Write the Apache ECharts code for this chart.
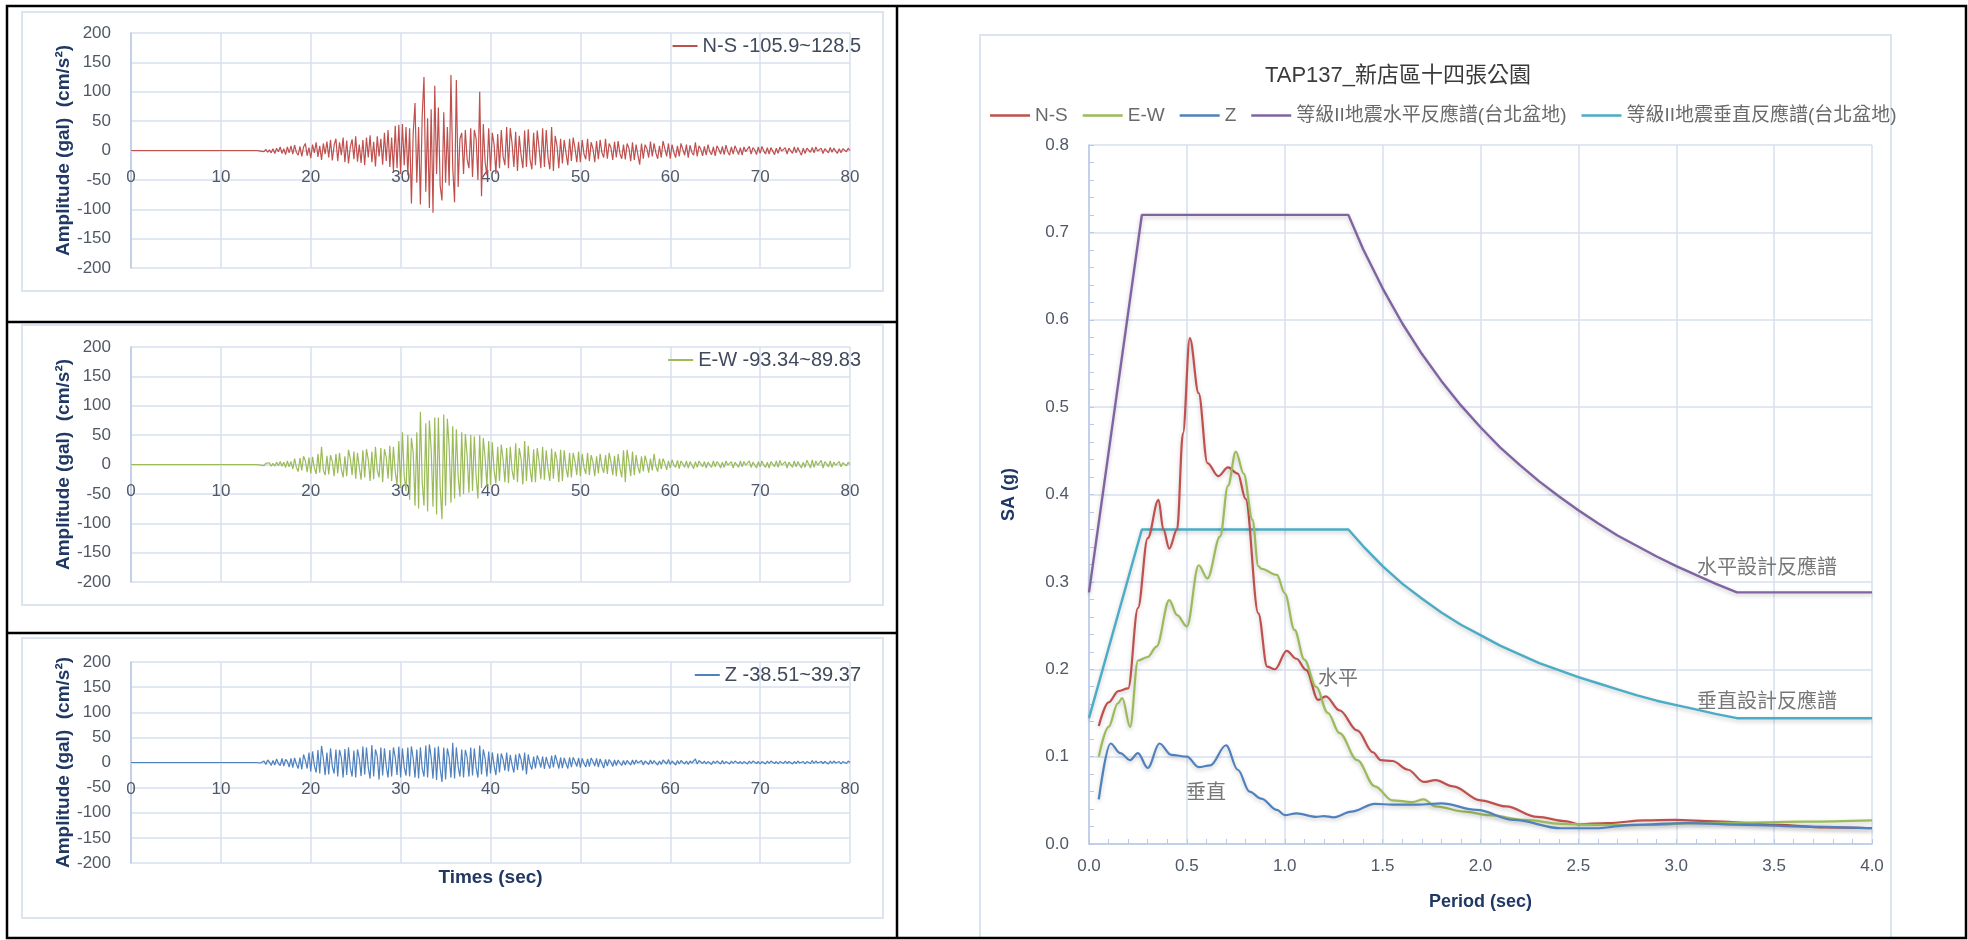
<!DOCTYPE html>
<html>
<head>
<meta charset="utf-8">
<script src="https://cdn.jsdelivr.net/npm/echarts@6/dist/echarts.min.js"></script>
<style>
  html, body { margin: 0; padding: 0; background: #ffffff; }
  #main { width: 1968px; height: 940px; }
</style>
</head>
<body>
<div id="main"></div>
<script>
// ---------- Acceleration records (gal), sampled every 0.2 s from 14 s; quiet before ----------
const accStart = 14;
const accStep = 0.2;

const nsAcc = [
  0, 1, -1, 1, -2,   2, -3, 1, -4, 3,   -5, 4, -2, 6, -5,   3, -7, 6, -4, 8,   -6, 9, -3, -8, 7,
  -10, 6, 12, -9, 5,   -13, 10, -4, 14, -11,   8, -16, 12, -6, 15,   -12, 18, -17, 9, 20,   -18, 14, -8, 22, -20,
  17, -22, 6, 19, -15,   24, -19, 10, -21, 18,   -25, 22, -12, 26, -20,   15, -27, 24, -10, 20,   -24, 30, -18, 35, -28,
  22, -35, 42, -30, 44,   -40, 45, -25, 40, -42,   38, -90, 30, 81, -55,   40, -92, 60, 125, -70,   55, -98, 70, -105.9, 110,
  -40, 73, -60, -85, 65,   -55, 40, -60, 128.5, -30,   -88, 120, -62, 20, 30,   -40, 35, -15, -30, 38,   -45, 35, 20, -50, 100,
  -78, 45, -20, -42, 38,   -35, 30, 10, -40, 28,   -30, 35, -10, -25, 40,   -30, 38, 12, -28, 32,   -35, 25, -8, -30, 34,
  -28, 36, -15, -32, 30,   -25, 34, 5, -30, 38,   -28, 35, -12, -32, 40,   -35, 25, 8, -30, 20,   -22, 18, -5, -25, 20,
  -18, 22, 4, -20, 15,   -20, 18, -6, -15, 20,   -18, 14, 3, -20, 16,   -15, 18, -4, -12, 20,   -14, 12, 5, -16, 15,
  -12, 16, -5, -14, 10,   -15, 12, 4, -18, 14,   -16, 10, -8, -24, 12,   -14, 10, 3, -12, 15,   -10, 12, -4, -14, 8,
  -12, 16, 3, -10, 12,   -14, 10, -3, -12, 8,   -10, 12, 2, -8, 10,   -12, 9, -3, -8, 14,   -10, 8, 2, -9, 7,
  -8, 10, -2, -7, 6,   -9, 8, 2, -6, 7,   -7, 9, -2, -8, 6,   -6, 8, 1, -7, 5,   -8, 6, -2, -5, 7,
  -6, 5, 1, -7, 6,   -5, 7, -1, -6, 5,   -6, 5, 2, -7, 4,   -5, 6, -1, -4, 5,   -6, 4, 1, -5, 6,
  -4, 5, -2, -8, 4,   -5, 4, 1, -3, 5,   -4, 6, -1, -3, 4,   -5, 3, 1, -4, 5,   -3, 4, -1, -5, 3,
  -4, 3, 1, -2, 4,   0
];

const ewAcc = [
  0, 1, -1, 1, -2,   2, -1, 3, -3, 2,   -3, 4, -2, 5, -3,   4, -5, 6, -4, 5,   -8, 10, -5, -12, 11,
  -10, 14, 6, -13, 12,   -15, 13, -6, -16, 18,   -14, 30, -10, -18, 15,   -17, 16, 5, -20, 18,   -15, 20, -8, -22, 14,
  -20, 25, 10, -18, 22,   -24, 20, -5, -26, 24,   -22, 26, 8, -28, 22,   -25, 30, -10, -22, 28,   -30, 26, 12, -24, 32,
  -28, 30, -12, -35, 40,   -40, 55, -20, -45, 50,   -60, 45, 20, -70, 55,   -75, 89.83, -30, -70, 70,   -80, 75, 25, -72, 80,
  -85, 80, -40, -93.34, 85,   -70, 78, 30, -65, 65,   -58, 60, -20, -55, 55,   -50, 52, 15, -48, 50,   -45, 48, -20, -58, 50,
  -40, 45, 12, -38, 40,   -35, 38, -10, -32, 30,   -28, 34, 8, -30, 28,   -32, 30, -10, -26, 36,   -30, 28, 10, -34, 40,
  -28, 32, -8, -30, 26,   -30, 28, 6, -25, 30,   -26, 24, -8, -28, 27,   -24, 22, 7, -30, 25,   -28, 24, -6, -22, 20,
  -22, 20, 5, -18, 22,   -20, 18, -5, -16, 20,   -18, 16, 4, -20, 14,   -15, 18, -4, -14, 16,   -16, 20, 5, -18, 15,
  -20, 18, -6, -22, 24,   -30, 25, 5, -20, 22,   -18, 16, -4, -15, 14,   -12, 15, 3, -14, 10,   -10, 18, -3, -12, 10,
  -8, 10, 2, -9, 6,   -6, 8, -1, -5, 7,   -7, 6, 1, -5, 6,   -6, 5, -1, -7, 5,   -5, 6, 1, -4, 5,
  -6, 4, -1, -5, 6,   -4, 5, 1, -6, 4,   -5, 6, -1, -4, 5,   -6, 4, 1, -5, 6,   -4, 5, -1, -3, 6,
  -5, 4, 1, -6, 5,   -4, 6, -1, -5, 4,   -6, 5, 1, -4, 6,   -5, 7, -1, -4, 5,   -6, 4, 1, -5, 6,
  -4, 5, -1, -6, 4,   -5, 7, 1, -6, 8,   -5, 6, -1, -4, 7,   -6, 5, 1, -4, 6,   -5, 4, -1, -3, 5,
  -4, 3, 1, -2, 4,   0
];

const zAcc = [
  0, 2, -1, -2, 3,   -4, 5, 1, -6, 4,   -5, 7, -2, -6, 8,   -7, 6, 2, -9, 8,   -10, 9, -3, -12, 10,
  -14, 16, 4, -12, 20,   -18, 22, -6, -20, 25,   -22, 33, 8, -25, 20,   -24, 28, -8, -22, 26,   -28, 25, 10, -30, 27,
  -25, 30, -10, -28, 24,   -30, 26, 8, -27, 32,   -24, 30, -10, -32, 35,   -28, 26, 12, -34, 30,   -26, 28, -8, -30, 25,
  -28, 30, 10, -25, 32,   -30, 28, -10, -26, 30,   -28, 32, 8, -30, 26,   -32, 30, -12, -28, 34,   -30, 36, 10, -32, 30,
  -35, 32, -12, -38.51, 30,   -34, 28, 10, -30, 39.37,   -32, 30, -8, -28, 26,   -30, 25, 10, -28, 30,   -26, 28, -10, -30, 34,
  -24, 26, 8, -28, 22,   -22, 20, -6, -25, 18,   -20, 18, 6, -16, 20,   -18, 15, -5, -20, 16,   -15, 18, 6, -16, 20,
  -24, 16, -4, -14, 12,   -12, 14, 4, -10, 12,   -13, 11, -3, -12, 14,   -10, 15, 3, -12, 10,   -11, 9, -2, -12, 10,
  -9, 10, 2, -8, 9,   -10, 8, -2, -9, 7,   -8, 9, 2, -7, 8,   -9, 7, -2, -11, 6,   -7, 6, 1, -8, 5,
  -6, 5, -1, -6, 4,   -5, 4, 1, -5, 5,   -4, 5, -1, -3, 4,   -5, 3, 1, -4, 5,   -3, 4, -1, -5, 3,
  -4, 5, 1, -3, 6,   -4, 3, -1, -5, 4,   -3, 4, 1, -3, 3,   -4, 3, -1, -2, 7,   -3, 4, 1, -2, 3,
  -3, 2, -1, -4, 3,   -2, 3, 1, -3, 4,   -3, 2, -1, -3, 3,   -2, 3, 1, -2, 2,   -3, 2, -1, -3, 3,
  -2, 3, 1, -2, 2,   -3, 2, -1, -3, 3,   -2, 3, 1, -2, 2,   -3, 2, -1, -2, 3,   -2, 2, 1, -3, 2,
  -2, 3, -1, -2, 2,   -3, 2, 1, -2, 4,   -2, 3, -1, -3, 2,   -2, 2, 1, -3, 3,   -2, 3, -1, -2, 2,
  -3, 2, 1, -2, 3,   0
];

// ---------- Response spectra (period in s, SA in g) ----------
const nsPeriod = [0.05, 0.10, 0.15, 0.20, 0.25, 0.30, 0.355, 0.38, 0.41, 0.45, 0.48, 0.515, 0.56, 0.605, 0.66, 0.71, 0.76, 0.80, 0.865, 0.91, 0.95, 1.01, 1.06, 1.11, 1.17, 1.21, 1.28, 1.37, 1.45, 1.49, 1.55, 1.63, 1.71, 1.77, 1.86, 2.0, 2.13, 2.29, 2.44, 2.5, 2.65, 2.84, 2.99, 3.2, 3.51, 3.76, 4.0];
const nsSA     = [0.135, 0.162, 0.175, 0.178, 0.27, 0.35, 0.394, 0.36, 0.338, 0.36, 0.47, 0.579, 0.516, 0.436, 0.421, 0.431, 0.424, 0.395, 0.264, 0.203, 0.200, 0.221, 0.212, 0.199, 0.165, 0.169, 0.153, 0.130, 0.105, 0.096, 0.095, 0.085, 0.071, 0.073, 0.066, 0.050, 0.043, 0.031, 0.026, 0.0225, 0.024, 0.027, 0.0275, 0.026, 0.022, 0.019, 0.018];

const ewPeriod = [0.05, 0.10, 0.147, 0.17, 0.21, 0.25, 0.30, 0.345, 0.41, 0.45, 0.50, 0.56, 0.605, 0.67, 0.71, 0.75, 0.79, 0.835, 0.865, 0.88, 0.96, 1.00, 1.05, 1.10, 1.16, 1.22, 1.28, 1.37, 1.46, 1.55, 1.65, 1.71, 1.77, 1.92, 2.04, 2.23, 2.41, 2.59, 2.75, 2.9, 3.08, 3.36, 3.66, 4.0];
const ewSA     = [0.100, 0.134, 0.161, 0.167, 0.134, 0.21, 0.214, 0.226, 0.279, 0.262, 0.249, 0.319, 0.304, 0.352, 0.41, 0.449, 0.424, 0.371, 0.318, 0.315, 0.308, 0.287, 0.245, 0.211, 0.18, 0.15, 0.127, 0.096, 0.066, 0.050, 0.048, 0.051, 0.043, 0.037, 0.033, 0.0275, 0.023, 0.022, 0.0215, 0.022, 0.024, 0.0245, 0.0255, 0.027];

const zPeriod = [0.05, 0.11, 0.16, 0.21, 0.25, 0.30, 0.36, 0.42, 0.50, 0.56, 0.62, 0.70, 0.76, 0.82, 0.88, 0.96, 1.00, 1.06, 1.16, 1.20, 1.25, 1.34, 1.46, 1.55, 1.68, 1.80, 1.98, 2.17, 2.41, 2.59, 2.78, 3.05, 3.36, 3.66, 4.0];
const zSA     = [0.051, 0.115, 0.104, 0.096, 0.104, 0.087, 0.115, 0.102, 0.100, 0.088, 0.090, 0.113, 0.085, 0.060, 0.052, 0.039, 0.033, 0.035, 0.031, 0.032, 0.0305, 0.037, 0.046, 0.045, 0.045, 0.0465, 0.039, 0.0275, 0.018, 0.018, 0.022, 0.024, 0.022, 0.020, 0.018];

// Design spectra, Taipei basin
const designHPeriod = [0, 0.27, 1.325, 1.4, 1.5, 1.6, 1.7, 1.8, 1.9, 2.0, 2.1, 2.2, 2.3, 2.4, 2.5, 2.6, 2.7, 2.8, 2.9, 3.0, 3.1, 3.2, 3.31, 4.0];
const designHSA     = [0.288, 0.72, 0.72, 0.681, 0.636, 0.596, 0.561, 0.530, 0.502, 0.477, 0.454, 0.434, 0.415, 0.398, 0.382, 0.367, 0.353, 0.341, 0.329, 0.318, 0.308, 0.298, 0.288, 0.288];
const designVPeriod = [0, 0.27, 1.325, 1.4, 1.5, 1.6, 1.7, 1.8, 1.9, 2.0, 2.1, 2.2, 2.3, 2.4, 2.5, 2.6, 2.7, 2.8, 2.9, 3.0, 3.1, 3.2, 3.31, 4.0];
const designVSA     = [0.144, 0.36, 0.36, 0.341, 0.318, 0.298, 0.281, 0.265, 0.251, 0.239, 0.227, 0.217, 0.207, 0.199, 0.191, 0.184, 0.177, 0.170, 0.164, 0.159, 0.154, 0.149, 0.144, 0.144];

const spectrumNames = ['N-S', 'E-W', 'Z', '等級II地震水平反應譜(台北盆地)', '等級II地震垂直反應譜(台北盆地)'];
const annotationTexts = ['水平設計反應譜', '垂直設計反應譜', '水平', '垂直'];

// ---------- helpers ----------
const FONT = "'Liberation Sans', 'Noto Sans CJK TC', sans-serif";
const COLORS = ['#C0504D', '#9BBB59', '#4F81BD', '#8064A2', '#4BACC6'];
const GRID_LINE = '#D7E0F0';
const AXIS_LINE = '#B7C9E6';
const NAVY = '#203864';

function accSeriesData(arr) {
  return [[0, 0]].concat(arr.map((v, i) => [accStart + i * accStep, v]));
}
function zip(xs, ys) { return xs.map((x, i) => [x, ys[i]]); }
function rangeName(prefix, arr) {
  return prefix + ' ' + Math.min(...arr) + '~' + Math.max(...arr);
}

const accNames = [rangeName('N-S', nsAcc), rangeName('E-W', ewAcc), rangeName('Z', zAcc)];
const accData = [nsAcc, ewAcc, zAcc];

// left column panel layout
const panels = [
  { top: 33, height: 235 },
  { top: 347, height: 235 },
  { top: 662, height: 201 }
];

const grids = panels.map(p => ({ left: 131, top: p.top, width: 719, height: p.height }));
grids.push({ left: 1089, top: 145, width: 783, height: 699 });

// the time axis sits on the zero line, half way up each symmetric plot
const xAxes = panels.map((p, i) => ({
  type: 'value', gridIndex: i, min: 0, max: 80, interval: 10,
  position: 'bottom', offset: -p.height / 2,
  axisLine: { onZero: false, lineStyle: { color: GRID_LINE, width: 1.5 } },
  axisTick: { show: false },
  axisLabel: { margin: 18, fontSize: 17, color: '#505866', fontFamily: FONT },
  splitLine: { show: true, lineStyle: { color: GRID_LINE, width: 1.5 } },
  name: i === 2 ? 'Times (sec)' : '',
  nameLocation: 'middle', nameGap: 106,
  nameTextStyle: { fontSize: 19, fontWeight: 'bold', color: NAVY, fontFamily: FONT }
}));
xAxes.push({
  type: 'value', gridIndex: 3, min: 0, max: 4, interval: 0.5,
  axisLine: { show: true, lineStyle: { color: AXIS_LINE, width: 1.5 } },
  axisTick: { show: true, inside: true, length: 5, lineStyle: { color: AXIS_LINE } },
  minorTick: { show: true, splitNumber: 5, length: 5, lineStyle: { color: AXIS_LINE } },
  axisLabel: { margin: 14, fontSize: 17, color: '#505866', fontFamily: FONT, formatter: v => v.toFixed(1) },
  splitLine: { show: true, lineStyle: { color: GRID_LINE, width: 1.5 } },
  name: 'Period (sec)', nameLocation: 'middle', nameGap: 49,
  nameTextStyle: { fontSize: 18, fontWeight: 'bold', color: NAVY, fontFamily: FONT }
});

const yAxes = panels.map((p, i) => ({
  type: 'value', gridIndex: i, min: -200, max: 200, interval: 50,
  axisLine: { show: true, onZero: false, lineStyle: { color: AXIS_LINE, width: 1.5 } },
  axisTick: { show: false },
  axisLabel: { margin: 20, fontSize: 17, color: '#505866', fontFamily: FONT },
  splitLine: { show: true, lineStyle: { color: GRID_LINE, width: 1.5 } },
  name: 'Amplitude (gal)  (cm/s²)', nameLocation: 'middle', nameGap: 58,
  nameTextStyle: { fontSize: 19, fontWeight: 'bold', color: NAVY, fontFamily: FONT }
}));
yAxes.push({
  type: 'value', gridIndex: 3, min: 0, max: 0.8, interval: 0.1,
  axisLine: { show: true, onZero: false, lineStyle: { color: AXIS_LINE, width: 1.5 } },
  axisTick: { show: true, inside: true, length: 5, lineStyle: { color: AXIS_LINE } },
  minorTick: { show: true, splitNumber: 5, length: 5, lineStyle: { color: AXIS_LINE } },
  axisLabel: { margin: 20, fontSize: 17, color: '#505866', fontFamily: FONT, formatter: v => v.toFixed(1) },
  splitLine: { show: true, lineStyle: { color: GRID_LINE, width: 1.5 } },
  name: 'SA (g)', nameLocation: 'middle', nameGap: 71,
  nameTextStyle: { fontSize: 18, fontWeight: 'bold', color: NAVY, fontFamily: FONT }
});

const series = [];
accData.forEach((arr, i) => {
  series.push({
    name: accNames[i], type: 'line', xAxisIndex: i, yAxisIndex: i,
    data: accSeriesData(arr), showSymbol: false, symbol: 'none',
    lineStyle: { color: COLORS[i], width: 1.2 }, itemStyle: { color: COLORS[i] },
    emphasis: { disabled: true }, z: 3
  });
});

const spectra = [
  zip(nsPeriod, nsSA), zip(ewPeriod, ewSA), zip(zPeriod, zSA),
  zip(designHPeriod, designHSA), zip(designVPeriod, designVSA)
];
spectra.forEach((d, i) => {
  const isDesign = i >= 3;
  series.push({
    name: spectrumNames[i], type: 'line', xAxisIndex: 3, yAxisIndex: 3,
    data: d, showSymbol: false, symbol: 'none',
    smooth: isDesign ? false : 0.35, smoothMonotone: 'x',
    lineStyle: {
      color: COLORS[i], width: isDesign ? 2.4 : 2.2,
      shadowColor: 'rgba(0,0,0,0.22)', shadowBlur: 4, shadowOffsetY: 2
    },
    itemStyle: { color: COLORS[i] },
    emphasis: { disabled: true }, z: isDesign ? 3 : 4
  });
});

// text notes inside the spectrum plot
const annotationCoords = [[3.464, 0.315], [3.464, 0.1625], [1.272, 0.188], [0.598, 0.058]];
series.push({
  name: 'notes', type: 'scatter', xAxisIndex: 3, yAxisIndex: 3,
  symbol: 'circle', symbolSize: 1, itemStyle: { color: 'rgba(0,0,0,0)' },
  data: annotationTexts.map((t, i) => ({ name: t, value: annotationCoords[i] })),
  label: { show: true, position: 'inside', formatter: '{b}', fontSize: 20, color: '#555555', fontFamily: FONT },
  emphasis: { disabled: true }, silent: true, z: 6
});

const legendText = { fontSize: 20, color: '#404a5a', fontFamily: FONT };
const legends = panels.map((p, i) => ({
  data: [accNames[i]], right: 1102, top: p.top - 2, icon: 'rect',
  itemWidth: 25, itemHeight: 2, itemGap: 4, textStyle: legendText, selectedMode: false
}));
legends.push({
  data: spectrumNames, left: 985, top: 101, icon: 'rect', itemGap: 15,
  itemWidth: 40, itemHeight: 2.5, selectedMode: false,
  textStyle: { fontSize: 19, color: '#6a6a6a', fontFamily: FONT }
});

// table frame and chart-area outlines
const frameStyle = { stroke: '#000000', lineWidth: 2.5, fill: null };
const areaStyle = { stroke: '#DCE4F0', lineWidth: 2, fill: null };
const graphic = [
  { type: 'rect', shape: { x: 22, y: 12, width: 861, height: 279 }, style: areaStyle, silent: true, z: 0 },
  { type: 'rect', shape: { x: 22, y: 325, width: 861, height: 280 }, style: areaStyle, silent: true, z: 0 },
  { type: 'rect', shape: { x: 22, y: 638, width: 861, height: 280 }, style: areaStyle, silent: true, z: 0 },
  { type: 'rect', shape: { x: 980, y: 35, width: 911, height: 903 }, style: areaStyle, silent: true, z: 0 },
  { type: 'rect', shape: { x: 7, y: 6, width: 1959, height: 932 }, style: frameStyle, silent: true, z: 10 },
  { type: 'line', shape: { x1: 897, y1: 6, x2: 897, y2: 938 }, style: { stroke: '#000', lineWidth: 2.5 }, silent: true, z: 10 },
  { type: 'line', shape: { x1: 7, y1: 322, x2: 897, y2: 322 }, style: { stroke: '#000', lineWidth: 2.5 }, silent: true, z: 10 },
  { type: 'line', shape: { x1: 7, y1: 633, x2: 897, y2: 633 }, style: { stroke: '#000', lineWidth: 2.5 }, silent: true, z: 10 }
];

const chart = echarts.init(document.getElementById('main'), null, { renderer: 'canvas' });
chart.setOption({
  backgroundColor: '#ffffff',
  animation: false,
  title: {
    text: 'TAP137_新店區十四張公園', left: 1393, top: 60, textAlign: 'center',
    textStyle: { fontSize: 22, fontWeight: 'normal', color: '#3a3a3a', fontFamily: FONT }
  },
  legend: legends,
  grid: grids,
  xAxis: xAxes,
  yAxis: yAxes,
  series: series,
  graphic: graphic
});
</script>
</body>
</html>
